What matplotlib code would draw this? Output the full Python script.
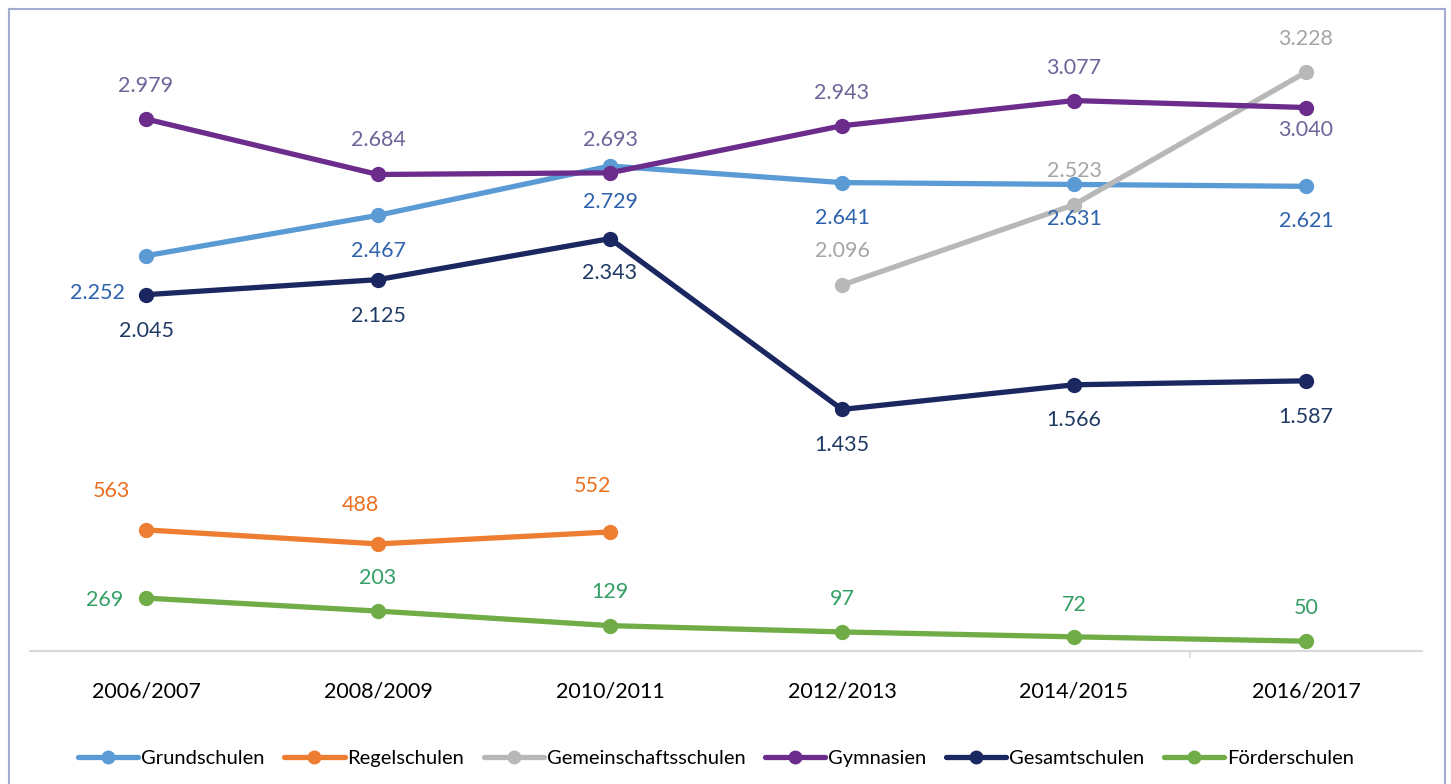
import numpy as np
import matplotlib
matplotlib.use("Agg")
import matplotlib.pyplot as plt
from matplotlib.lines import Line2D

plt.rcParams["font.family"] = ["Lato", "DejaVu Sans"]

#%% --- Data ---

years = ["2006/2007", "2008/2009", "2010/2011", "2012/2013", "2014/2015", "2016/2017"]

grundschulen = [2252, 2467, 2729, 2641, 2631, 2621]
regelschulen = [563, 488, 552, np.nan, np.nan, np.nan]
gemeinschaftsschulen = [np.nan, np.nan, np.nan, 2096, 2523, 3228]
gymnasien = [2979, 2684, 2693, 2943, 3077, 3040]
gesamtschulen = [2045, 2125, 2343, 1435, 1566, 1587]
foerderschulen = [269, 203, 129, 97, 72, 50]

#%% --- Styles ---

# name, values, line colour, label colour, label offsets in pixels (dx, dy)
series = [
    ("Grundschulen", grundschulen, "#5b9bd5", "#2e62ad",
     [(-49, -37), (0, -36), (0, -36), (0, -35), (0, -35), (0, -35)]),
    ("Regelschulen", regelschulen, "#ed7d31", "#ec6f1f",
     [(-35, 39), (-18, 39), (-18, 46), None, None, None]),
    ("Gemeinschaftsschulen", gemeinschaftsschulen, "#b8b8b8", "#a5a5a5",
     [None, None, None, (0, 34), (0, 34), (0, 33)]),
    ("Gymnasien", gymnasien, "#6b2c8c", "#6a6699",
     [(0, 33), (0, 34), (0, 33), (0, 33), (0, 33), (0, -22)]),
    ("Gesamtschulen", gesamtschulen, "#1b2761", "#1f3a64",
     [(0, -36), (0, -36), (0, -34), (0, -36), (0, -35), (0, -36)]),
    ("Förderschulen", foerderschulen, "#70ad47", "#34a065",
     [(-41, -2), (0, 33), (0, 34), (0, 33), (0, 32), (0, 33)]),
]

# piecewise value axis: stretched low band, compressed gap up to the big school types
scale_vals = [0, 300, 450, 600, 1400, 3500]
scale_pos = [0, 59, 100, 128, 235, 630]


def forward(v):
    return np.interp(v, scale_vals, scale_pos)


def inverse(p):
    return np.interp(p, scale_pos, scale_vals)


def fmt(v):
    return f"{int(v):,}".replace(",", ".")


#%% --- Figure ---

fig = plt.figure(figsize=(14.51, 7.84), dpi=100)
ax = fig.add_axes([30 / 1451, 133 / 784, 1392 / 1451, 630 / 784])

x = np.arange(len(years))
handles = []
for name, values, color, label_color, offsets in series:
    ax.plot(x, values, color=color, linewidth=3.8, marker="o",
            markersize=10, solid_capstyle="round", zorder=3)
    for xi, v, off in zip(x, values, offsets):
        if off is None or np.isnan(v):
            continue
        ax.annotate(fmt(v), (xi, v), xytext=off, textcoords="offset pixels",
                    ha="center", va="center", fontsize=15.5,
                    color=label_color, zorder=4)
    handles.append(Line2D([], [], color=color, linewidth=3.8, marker="o",
                          markersize=9, solid_capstyle="round", label=name))

ax.set_yscale("function", functions=(forward, inverse))
ax.set_ylim(0, 3500)
ax.set_xlim(-0.5, 5.5)

# --- spines and ticks ---
for side in ["left", "right", "top"]:
    ax.spines[side].set_visible(False)
ax.spines["bottom"].set_color("#d9d9d9")
ax.spines["bottom"].set_linewidth(1.6)
ax.set_yticks([])

ax.set_xticks(x)
ax.set_xticklabels(years, fontsize=15.5, color="black")
ax.tick_params(axis="x", which="major", length=0, pad=22)
ax.set_xticks([2, 4.5], minor=True)
ax.tick_params(axis="x", which="minor", length=5, width=1.2, color="#d9d9d9")

# --- legend ---
fig.legend(handles=handles, loc="center", bbox_to_anchor=(716 / 1451, 1 - 758 / 784),
           ncol=6, frameon=False, fontsize=14.5, handlelength=3.0,
           handletextpad=0.15, columnspacing=0.95)

# --- outer frame ---
frame_color = "#a3abd0"
for xs, ys in [([9 / 1451, 9 / 1451], [0, 1 - 9 / 784]),
               ([9 / 1451, 1445 / 1451], [1 - 9 / 784, 1 - 9 / 784]),
               ([1445 / 1451, 1445 / 1451], [0, 1 - 9 / 784])]:
    fig.add_artist(Line2D(xs, ys, color=frame_color, linewidth=1.5,
                          transform=fig.transFigure))

fig.savefig("out.png", dpi=100)
